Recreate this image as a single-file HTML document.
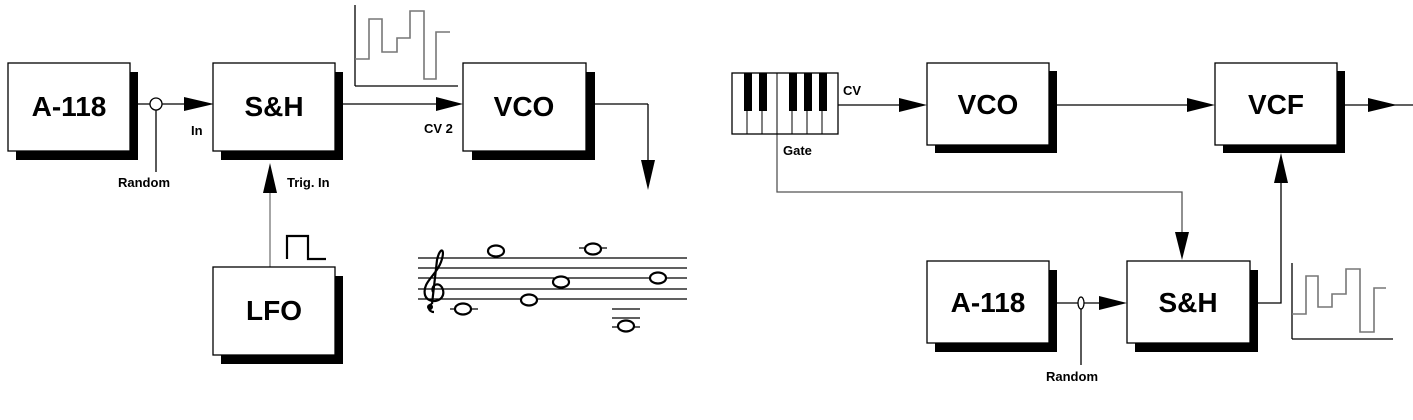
<!DOCTYPE html>
<html><head><meta charset="utf-8"><style>
html,body{margin:0;padding:0;background:#fff;}
svg{display:block;}
.b{font-family:"Liberation Sans",sans-serif;font-weight:bold;font-size:28px;text-anchor:middle;}
.s{font-family:"Liberation Sans",sans-serif;font-weight:bold;font-size:13px;}
</style></head><body>
<svg width="1413" height="420" viewBox="0 0 1413 420" xmlns="http://www.w3.org/2000/svg">
<g stroke="#000" stroke-width="1.3" fill="none">
<!-- left connections -->
<line x1="130" y1="104" x2="150" y2="104"/>
<line x1="162" y1="104" x2="190" y2="104"/>
<circle cx="156" cy="104" r="6" fill="#fff"/>
<line x1="156" y1="110" x2="156" y2="172"/>
<line x1="343" y1="104" x2="440" y2="104"/>
<line x1="595" y1="104" x2="648" y2="104"/>
<line x1="648" y1="104" x2="648" y2="162"/>
<line x1="270" y1="267" x2="270" y2="190" stroke="#777"/>
<polyline points="287,259 287,236 308,236 308,259 326,259" stroke-width="2.2"/>
<!-- waveform left -->
<line x1="355" y1="5" x2="355" y2="86"/>
<line x1="355" y1="86" x2="458" y2="86"/>
<polyline points="355,59 369,59 369,19 382,19 382,52 397,52 397,38 410,38 410,11 424,11 424,79 436,79 436,32 450,32" stroke="#777" stroke-width="1.6"/>
<!-- staff -->
<g stroke-width="1.2">
<line x1="418" y1="258" x2="687" y2="258"/>
<line x1="418" y1="268" x2="687" y2="268"/>
<line x1="418" y1="278" x2="687" y2="278"/>
<line x1="418" y1="289" x2="687" y2="289"/>
<line x1="418" y1="299" x2="687" y2="299"/>
<line x1="450" y1="309" x2="478" y2="309"/>
<line x1="579" y1="248" x2="607" y2="248"/>
<line x1="612" y1="309" x2="640" y2="309"/>
<line x1="612" y1="318" x2="640" y2="318"/>
<line x1="612" y1="327" x2="640" y2="327"/>
</g>
<g stroke-width="2.2" fill="#fff">
<ellipse cx="463" cy="309" rx="8" ry="5.5"/>
<ellipse cx="496" cy="251" rx="8" ry="5.5"/>
<ellipse cx="529" cy="300" rx="8" ry="5.5"/>
<ellipse cx="561" cy="282" rx="8" ry="5.5"/>
<ellipse cx="593" cy="249" rx="8" ry="5.5"/>
<ellipse cx="626" cy="326" rx="8" ry="5.5"/>
<ellipse cx="658" cy="278" rx="8" ry="5.5"/>
</g>
<path d="M434,312 C428,312 427,305 432,304 M432,304 L437,260 C440,246 446,248 441,262 C436,276 422,282 425,295 C428,305 446,302 443,290 C440,280 430,285 433,292" stroke-width="2.2"/>
<circle cx="430" cy="307" r="3" fill="#000" stroke="none"/>
<!-- right connections -->
<line x1="838" y1="105" x2="900" y2="105"/>
<line x1="1057" y1="105" x2="1188" y2="105"/>
<line x1="1345" y1="105" x2="1413" y2="105"/>
<polyline points="777,134 777,192 1182,192 1182,234" stroke="#555"/>
<line x1="1049" y1="303" x2="1100" y2="303"/>
<ellipse cx="1081" cy="303" rx="3" ry="6" fill="#fff"/>
<line x1="1081" y1="309" x2="1081" y2="365"/>
<polyline points="1258,303 1281,303 1281,182"/>
<!-- waveform right -->
<line x1="1292" y1="263" x2="1292" y2="339"/>
<line x1="1292" y1="339" x2="1393" y2="339"/>
<polyline points="1292,314 1306,314 1306,276 1318,276 1318,307 1332,307 1332,294 1346,294 1346,269 1360,269 1360,332 1374,332 1374,288 1386,288" stroke="#777" stroke-width="1.6"/>
</g>
<!-- arrowheads -->
<g fill="#000">
<polygon points="184,97 214,104 184,111"/>
<polygon points="436,97 463,104 436,111"/>
<polygon points="641,160 655,160 648,190"/>
<polygon points="263,193 277,193 270,163"/>
<polygon points="899,98 927,105 899,112"/>
<polygon points="1187,98 1215,105 1187,112"/>
<polygon points="1368,98 1397,105 1368,112"/>
<polygon points="1175,232 1189,232 1182,260"/>
<polygon points="1099,296 1127,303 1099,310"/>
<polygon points="1274,183 1288,183 1281,153"/>
</g>
<!-- boxes -->
<g stroke="#000" stroke-width="1.3">
<rect x="16" y="72" width="122" height="88" fill="#000" stroke="none"/>
<rect x="8" y="63" width="122" height="88" fill="#fff"/>
<rect x="221" y="72" width="122" height="88" fill="#000" stroke="none"/>
<rect x="213" y="63" width="122" height="88" fill="#fff"/>
<rect x="472" y="72" width="123" height="88" fill="#000" stroke="none"/>
<rect x="463" y="63" width="123" height="88" fill="#fff"/>
<rect x="221" y="276" width="122" height="88" fill="#000" stroke="none"/>
<rect x="213" y="267" width="122" height="88" fill="#fff"/>
<rect x="935" y="71" width="122" height="82" fill="#000" stroke="none"/>
<rect x="927" y="63" width="122" height="82" fill="#fff"/>
<rect x="1223" y="71" width="122" height="82" fill="#000" stroke="none"/>
<rect x="1215" y="63" width="122" height="82" fill="#fff"/>
<rect x="935" y="270" width="122" height="82" fill="#000" stroke="none"/>
<rect x="927" y="261" width="122" height="82" fill="#fff"/>
<rect x="1135" y="270" width="123" height="82" fill="#000" stroke="none"/>
<rect x="1127" y="261" width="123" height="82" fill="#fff"/>
<!-- keyboard -->
<rect x="732" y="73" width="106" height="61" fill="#fff"/>
<g stroke-width="1">
<line x1="747" y1="111" x2="747" y2="134"/><line x1="762" y1="111" x2="762" y2="134"/>
<line x1="777" y1="73" x2="777" y2="134"/><line x1="792" y1="111" x2="792" y2="134"/>
<line x1="807" y1="111" x2="807" y2="134"/><line x1="822" y1="111" x2="822" y2="134"/>
</g>
</g>
<g fill="#000">
<rect x="744" y="73" width="8" height="38"/><rect x="759" y="73" width="8" height="38"/>
<rect x="789" y="73" width="8" height="38"/><rect x="804" y="73" width="8" height="38"/>
<rect x="819" y="73" width="8" height="38"/>
</g>
<!-- labels -->
<text class="b" x="69" y="116">A-118</text>
<text class="b" x="274" y="116">S&amp;H</text>
<text class="b" x="524" y="116">VCO</text>
<text class="b" x="274" y="320">LFO</text>
<text class="b" x="988" y="114">VCO</text>
<text class="b" x="1276" y="114">VCF</text>
<text class="b" x="988" y="312">A-118</text>
<text class="b" x="1188" y="312">S&amp;H</text>
<text class="s" x="118" y="187">Random</text>
<text class="s" x="191" y="135">In</text>
<text class="s" x="424" y="133">CV 2</text>
<text class="s" x="287" y="187">Trig. In</text>
<text class="s" x="843" y="95">CV</text>
<text class="s" x="783" y="155">Gate</text>
<text class="s" x="1046" y="381">Random</text>
</svg>
</body></html>
